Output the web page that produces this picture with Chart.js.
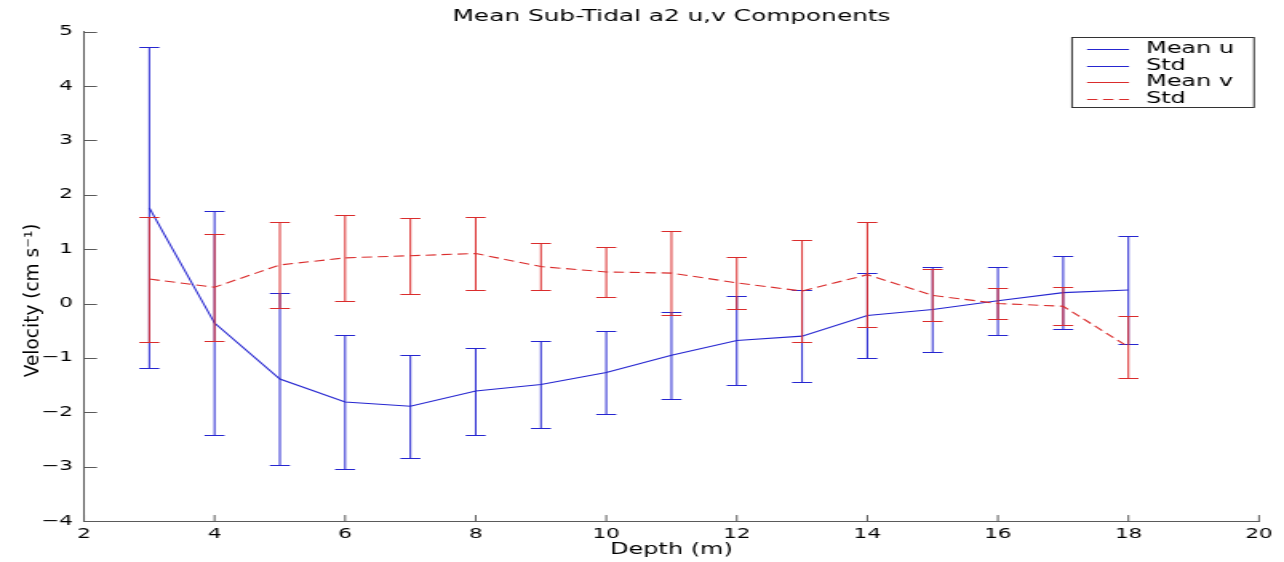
<!DOCTYPE html>
<html><head><meta charset="utf-8">
<script src="https://cdn.jsdelivr.net/npm/chart.js@4.4.0/dist/chart.umd.min.js"></script>
<style>
html,body{margin:0;padding:0;background:#fff;overflow:hidden;width:1284px;height:562px;}
#wrap{position:absolute;left:0;top:0;width:803px;height:562px;transform-origin:0 0;transform:scaleX(1.599004);}
canvas{display:block;}
</style></head><body>
<div id="wrap"><canvas id="c" width="803" height="562"></canvas></div>
<script>
// ---- data ----
const depths = [3, 4, 5, 6, 7, 8, 9, 10, 11, 12, 13, 14, 15, 16, 17, 18];
const meanU  = [1.76, -0.36, -1.39, -1.81, -1.89, -1.61, -1.49, -1.27, -0.95, -0.68, -0.60, -0.22, -0.11, 0.05, 0.20, 0.25];
const stdU   = [2.95, 2.06, 1.58, 1.24, 0.95, 0.80, 0.80, 0.76, 0.80, 0.815, 0.85, 0.79, 0.78, 0.62, 0.67, 1.00];
const meanV  = [0.45, 0.30, 0.71, 0.84, 0.88, 0.92, 0.68, 0.58, 0.56, 0.38, 0.23, 0.53, 0.15, 0.00, -0.05, -0.80];
const stdV   = [1.15, 0.985, 0.795, 0.785, 0.70, 0.665, 0.435, 0.46, 0.78, 0.475, 0.93, 0.965, 0.48, 0.28, 0.345, 0.57];
const xTicks = [2, 4, 6, 8, 10, 12, 14, 16, 18, 20];
const yTicks = [-4, -3, -2, -1, 0, 1, 2, 3, 4, 5];
const legendLabels = ['Mean u', 'Std', 'Mean v', 'Std'];
const titleText = 'Mean Sub-Tidal a2 u,v Components';
const xTitle = 'Depth (m)';
const yTitle = 'Velocity (cm s\u207B\u00B9)';

// ---- styling ----
const S = 1284 / 803;           // horizontal stretch applied to the canvas
const BLUE = 'rgb(38,38,208)';
const RED = 'rgb(218,44,44)';
const AXIS = '#5a5a5a';
const DASH = [6.5, 3.5];
Chart.defaults.font.family = "'DejaVu Sans', sans-serif";
Chart.defaults.color = '#000';

const fmt = v => (v < 0 ? '\u2212' + Math.abs(v) : String(v));

const errorBars = {
  id: 'errorBars',
  afterDatasetDraw(chart, args) {
    const ds = chart.data.datasets[args.index];
    if (!ds.errors) return;
    const xs = chart.scales.x, ys = chart.scales.y, ctx = chart.ctx;
    const cap = 10 / S;
    ctx.save();
    ctx.strokeStyle = ds.borderColor;
    ctx.lineWidth = 1;
    ctx.setLineDash([]);
    ds.data.forEach((p, i) => {
      const x = xs.getPixelForValue(p.x);
      const yt = Math.round(ys.getPixelForValue(p.y + ds.errors[i])) + 0.5;
      const yb = Math.round(ys.getPixelForValue(p.y - ds.errors[i])) + 0.5;
      ctx.beginPath();
      ctx.moveTo(x, yt); ctx.lineTo(x, yb);
      ctx.moveTo(x - cap, yt); ctx.lineTo(x + cap, yt);
      ctx.moveTo(x - cap, yb); ctx.lineTo(x + cap, yb);
      ctx.stroke();
    });
    ctx.restore();
  }
};

const extras = {
  id: 'extras',
  afterDraw(chart) {
    const ctx = chart.ctx, a = chart.chartArea;
    const xs = chart.scales.x, ys = chart.scales.y;
    // inward tick marks
    ctx.save();
    ctx.strokeStyle = AXIS; ctx.lineWidth = 1;
    ctx.beginPath();
    yTicks.forEach(v => {
      const y = Math.round(ys.getPixelForValue(v)) + 0.5;
      ctx.moveTo(a.left, y); ctx.lineTo(a.left + 13 / S, y);
    });
    xTicks.forEach(v => {
      const x = xs.getPixelForValue(v);
      ctx.moveTo(x, a.bottom); ctx.lineTo(x, a.bottom - 6);
    });
    ctx.stroke();
    ctx.restore();

    // y axis title (kept unstretched)
    ctx.save();
    ctx.translate(33 / S, (a.top + a.bottom) / 2 + 24);
    ctx.scale(1 / S, 1);
    ctx.rotate(-Math.PI / 2);
    ctx.font = "18.5px 'DejaVu Sans'";
    ctx.fillStyle = '#000';
    ctx.textAlign = 'center';
    ctx.textBaseline = 'middle';
    ctx.fillText(yTitle, 0, 0);
    ctx.restore();

    // legend box
    const L = 1072 / S, R = 1254 / S, T = 37.5, B = 107.5;
    ctx.save();
    ctx.fillStyle = '#fff';
    ctx.fillRect(L, T, R - L, B - T);
    ctx.strokeStyle = '#333'; ctx.lineWidth = 1;
    ctx.strokeRect(L, T, R - L, B - T);
    const rows = [49, 65.5, 82, 98.5];
    const cols = [BLUE, BLUE, RED, RED];
    const dashes = [[], [], [], DASH];
    ctx.font = "15px 'DejaVu Sans'";
    ctx.textBaseline = 'middle';
    ctx.textAlign = 'left';
    legendLabels.forEach((t, i) => {
      const y = Math.round(rows[i]) + 0.5;
      ctx.strokeStyle = cols[i];
      ctx.setLineDash(dashes[i]);
      ctx.beginPath();
      ctx.moveTo(1087 / S, y); ctx.lineTo(1129 / S, y);
      ctx.stroke();
      ctx.fillStyle = '#000';
      ctx.fillText(t, 1146 / S, rows[i] + 0.5);
    });
    ctx.restore();
  }
};

new Chart(document.getElementById('c'), {
  type: 'line',
  data: {
    datasets: [
      { label: 'Mean u', data: depths.map((d, i) => ({ x: d, y: meanU[i] })), errors: stdU,
        borderColor: BLUE, borderWidth: 1.1, pointRadius: 0, fill: false, tension: 0, order: 1 },
      { label: 'Mean v', data: depths.map((d, i) => ({ x: d, y: meanV[i] })), errors: stdV,
        borderColor: RED, borderWidth: 1.1, borderDash: DASH, pointRadius: 0, fill: false, tension: 0, order: 0 }
    ]
  },
  options: {
    responsive: false, animation: false, devicePixelRatio: 1,
    layout: { padding: { left: 0, right: (1284 - 1259) / S, top: 0, bottom: 0 } },
    plugins: {
      legend: { display: false },
      tooltip: { enabled: false },
      title: { display: true, fullSize: false, text: titleText, color: '#000',
        font: { size: 15.5, weight: 'normal' }, padding: { top: 8, bottom: 5.1 } }
    },
    scales: {
      x: {
        type: 'linear', min: 2, max: 20,
        afterBuildTicks: s => { s.ticks = xTicks.map(v => ({ value: v })); },
        afterFit: s => { s.height = 41; },
        grid: { display: false, drawTicks: false },
        border: { display: true, color: AXIS, width: 1 },
        ticks: { color: '#000', font: { size: 13.5 }, padding: 5, maxRotation: 0, autoSkip: false, callback: v => fmt(v) },
        title: { display: true, text: xTitle, color: '#000', font: { size: 15 }, padding: { top: 0, bottom: 3 } }
      },
      y: {
        type: 'linear', min: -4, max: 5,
        afterBuildTicks: s => { s.ticks = yTicks.map(v => ({ value: v })); },
        afterFit: s => { s.width = 84 / S; },
        grid: { display: false, drawTicks: false },
        border: { display: true, color: AXIS, width: 1 },
        ticks: { color: '#000', font: { size: 13.5 }, padding: 7, autoSkip: false, callback: v => fmt(v) }
      }
    }
  },
  plugins: [errorBars, extras]
});
</script>
</body></html>
